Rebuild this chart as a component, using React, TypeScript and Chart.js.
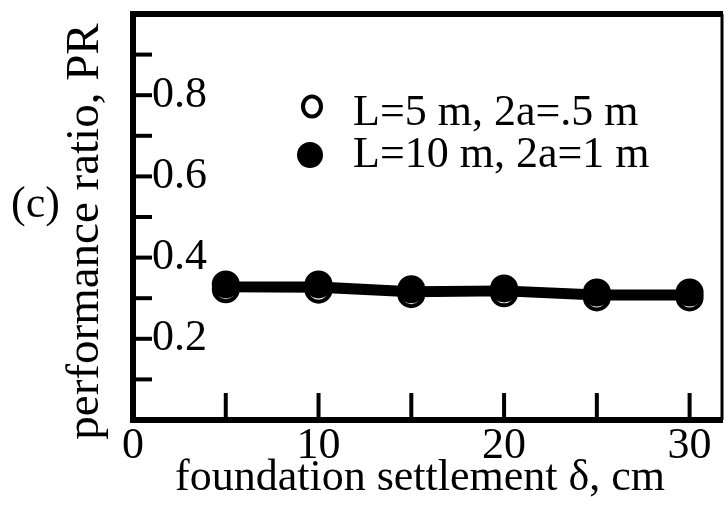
import React, { useEffect, useRef } from 'react';
import { Chart, registerables } from 'chart.js';

Chart.register(...registerables);

// ---- data ----
const settlement = [5, 10, 15, 20, 25, 30];
const prSmallPile = [0.322, 0.321, 0.31, 0.312, 0.302, 0.302]; // open circles
const prLargePile = [0.334, 0.334, 0.322, 0.324, 0.314, 0.314]; // filled circles
const seriesLabels = ['L=5 m, 2a=.5 m', 'L=10 m, 2a=1 m'];
const xTickLabels = [0, 10, 20, 30];
const yTickLabels = [0.2, 0.4, 0.6, 0.8];
const xTitle = 'foundation settlement δ, cm';
const yTitle = 'performance ratio, PR';
const panelLabel = '(c)';

const FONT = '"Liberation Serif", "Times New Roman", serif';

const zeroPad = (s: any) => {
  s.paddingTop = 0;
  s.paddingBottom = 0;
  s.paddingLeft = 0;
  s.paddingRight = 0;
};

const decorPlugin = {
  id: 'decor',
  afterDraw(chart: any) {
    const { ctx, chartArea: a, scales } = chart;
    const x = scales.x;
    const y = scales.y;
    ctx.save();
    ctx.strokeStyle = '#000';
    ctx.fillStyle = '#000';
    ctx.lineCap = 'butt';
    const line = (x1: number, y1: number, x2: number, y2: number) => {
      ctx.beginPath();
      ctx.moveTo(x1, y1);
      ctx.lineTo(x2, y2);
      ctx.stroke();
    };
    // inward tick marks
    ctx.lineWidth = 4;
    for (const t of y.ticks) {
      if (t.value <= 0 || t.value >= y.max - 1e-6) continue;
      const py = y.getPixelForValue(t.value);
      line(a.left, py, a.left + 19, py);
    }
    for (const t of x.ticks) {
      if (t.value <= 0) continue;
      const px = x.getPixelForValue(t.value);
      line(px, a.bottom, px, a.bottom - 27);
    }
    // frame
    ctx.lineWidth = 6;
    line(a.left, a.top - 3, a.left, a.bottom + 3);
    line(a.left - 3, a.bottom, a.right, a.bottom);
    line(a.left - 3, a.top, a.right, a.top);
    ctx.lineWidth = 3;
    line(a.right - 1, a.top, a.right - 1, a.bottom);

    // legend
    ctx.lineWidth = 4;
    ctx.beginPath();
    ctx.ellipse(312, 106.5, 9, 10, 0, 0, Math.PI * 2);
    ctx.stroke();
    ctx.beginPath();
    ctx.ellipse(310, 155, 13, 13, 0, 0, Math.PI * 2);
    ctx.fill();
    ctx.font = `44px ${FONT}`;
    ctx.textAlign = 'left';
    ctx.textBaseline = 'alphabetic';
    ctx.fillText(seriesLabels[0], 353, 125);
    ctx.fillText(seriesLabels[1], 353, 167);

    // panel label
    ctx.fillText(panelLabel, 11, 217);

    // x title
    ctx.textAlign = 'center';
    ctx.fillText(xTitle, 420, 490);

    // y title
    ctx.save();
    ctx.translate(98, 231.5);
    ctx.rotate(-Math.PI / 2);
    ctx.font = `47px ${FONT}`;
    ctx.fillText(yTitle, 0, 0);
    ctx.restore();

    ctx.restore();
  },
};

export default function App() {
  const ref = useRef<HTMLCanvasElement>(null);
  useEffect(() => {
    if (!ref.current) return;
    const chart = new Chart(ref.current, {
      type: 'line',
      data: {
        datasets: [
          {
            label: seriesLabels[1],
            data: settlement.map((s, i) => ({ x: s, y: prLargePile[i] })),
            borderColor: '#000',
            borderWidth: 6,
            backgroundColor: '#000',
            pointRadius: 13,
            pointBorderWidth: 2,
            pointBorderColor: '#000',
            pointBackgroundColor: '#000',
            pointStyle: 'circle',
            tension: 0,
          },
          {
            label: seriesLabels[0],
            data: settlement.map((s, i) => ({ x: s, y: prSmallPile[i] })),
            borderColor: '#000',
            borderWidth: 6,
            backgroundColor: '#fff',
            pointRadius: 12,
            pointBorderWidth: 4,
            pointBorderColor: '#000',
            pointBackgroundColor: '#fff',
            pointStyle: 'circle',
            tension: 0,
          },
        ],
      },
      options: {
        animation: false,
        responsive: false,
        devicePixelRatio: 1,
        layout: { autoPadding: false, padding: { left: 0, top: 14, right: 3, bottom: 0 } },
        plugins: { legend: { display: false }, tooltip: { enabled: false } },
        scales: {
          x: {
            type: 'linear',
            min: 0,
            max: 31.8,
            grid: { display: false, drawTicks: false },
            border: { display: false },
            afterFit: (s: any) => {
              s.height = 85;
              zeroPad(s);
            },
            ticks: {
              stepSize: 5,
              includeBounds: false,
              autoSkip: false,
              maxRotation: 0,
              padding: 0,
              color: '#000',
              font: { family: FONT, size: 44 },
              callback: (v: any) => {
                const n = Number(v);
                return xTickLabels.some((t) => Math.abs(t - n) < 1e-6) ? String(Math.round(n)) : '';
              },
            },
          },
          y: {
            type: 'linear',
            min: 0,
            max: 1,
            grid: { display: false, drawTicks: false },
            border: { display: false },
            afterFit: (s: any) => {
              s.width = 133;
              zeroPad(s);
            },
            ticks: {
              stepSize: 0.1,
              autoSkip: false,
              mirror: true,
              padding: 19,
              color: '#000',
              font: { family: FONT, size: 44 },
              callback: (v: any) => {
                const n = Number(v);
                return yTickLabels.some((t) => Math.abs(t - n) < 1e-6) ? n.toFixed(1) : '';
              },
            },
          },
        },
      },
      plugins: [decorPlugin],
    });
    return () => chart.destroy();
  }, []);
  return (
    <div style={{ position: 'fixed', left: 0, top: 0, width: 726, height: 505, background: '#fff' }}>
      <canvas ref={ref} width={726} height={505} style={{ width: 726, height: 505, display: 'block' }} />
    </div>
  );
}
